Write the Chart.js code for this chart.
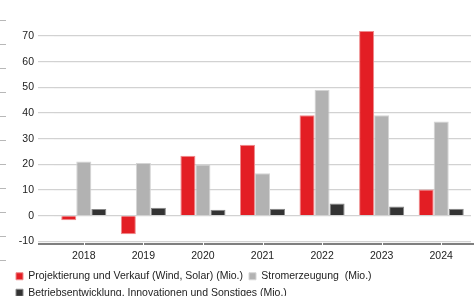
<!DOCTYPE html>
<html>
<head>
<meta charset="utf-8">
<script src="https://cdn.jsdelivr.net/npm/chart.js@4/dist/chart.umd.min.js"></script>
<style>
  html, body { margin: 0; padding: 0; background: #fff; overflow: hidden; }
  #wrap { position: relative; width: 474px; height: 308px; }
  #dashes { position: absolute; left: 0; top: 20px; width: 6px; height: 242px;
    background: repeating-linear-gradient(to bottom, #b8b8b8 0px, #b8b8b8 1px, transparent 1px, transparent 24px); }
</style>
</head>
<body>
<div id="wrap">
  <canvas id="c" width="474" height="308"></canvas>
  <div id="dashes"></div>
</div>
<script>
const categories = ['2018', '2019', '2020', '2021', '2022', '2023', '2024'];
const projektierung = [-1.8, -7.2, 23.4, 27.6, 39.1, 71.9, 10.2];
const stromerzeugung = [21.1, 20.5, 19.9, 16.5, 49.1, 39.1, 36.7];
const betrieb = [2.6, 3.1, 2.3, 2.7, 4.8, 3.6, 2.7];
const seriesNames = [
  'Projektierung und Verkauf (Wind, Solar) (Mio.)',
  'Stromerzeugung  (Mio.)',
  'Betriebsentwicklung, Innovationen und Sonstiges (Mio.)'
];
const yTicks = [-10, 0, 10, 20, 30, 40, 50, 60, 70];

const FONT = 'Liberation Sans, Arial, sans-serif';

const axisLinePlugin = {
  id: 'axisLine',
  afterDatasetsDraw(chart) {
    const ctx = chart.ctx;
    const y = chart.scales.y.getPixelForValue(-10) + 2.5;
    const x = chart.scales.x;
    ctx.save();
    ctx.strokeStyle = '#555555';
    ctx.lineWidth = 1.5;
    ctx.beginPath();
    ctx.moveTo(chart.chartArea.left - 16, y);
    ctx.lineTo(chart.width, y);
    ctx.stroke();
    ctx.strokeStyle = '#ffffff';
    ctx.lineWidth = 1;
    for (let i = 0; i < categories.length; i++) {
      const px = Math.round(x.getPixelForTick(i)) + 0.5;
      ctx.beginPath();
      ctx.moveTo(px, y - 1.5);
      ctx.lineTo(px, y + 1.5);
      ctx.stroke();
    }
    ctx.restore();
  }
};

new Chart(document.getElementById('c'), {
  type: 'bar',
  data: {
    labels: categories,
    datasets: [
      { label: seriesNames[0], data: projektierung, backgroundColor: '#e31e24', borderColor: '#ee8a8c', borderWidth: 1 },
      { label: seriesNames[1], data: stromerzeugung, backgroundColor: '#b2b2b2', borderColor: '#d4d4d4', borderWidth: 1 },
      { label: seriesNames[2], data: betrieb, backgroundColor: '#333333', borderColor: '#888888', borderWidth: 1 }
    ]
  },
  options: {
    responsive: false,
    animation: false,
    events: [],
    layout: { padding: { left: 10, right: 3, top: 3, bottom: 0 } },
    datasets: { bar: { categoryPercentage: 0.757, barPercentage: 1.0 } },
    scales: {
      x: {
        grid: { display: false, drawTicks: false },
        border: { display: false },
        ticks: { color: '#222', font: { family: FONT, size: 10.5 }, padding: 8 },
        afterFit(scale) { scale.height -= 5; }
      },
      y: {
        min: -10,
        max: 80,
        afterBuildTicks(scale) {
          scale.ticks = yTicks.concat([80]).map(v => ({ value: v }));
        },
        afterFit(scale) { scale.width = 44; },
        grid: {
          color: (c) => (c.tick && c.tick.value === 80) ? 'rgba(0,0,0,0)' : '#d2d2d2',
          lineWidth: 1.2,
          tickLength: 16
        },
        border: { display: false },
        ticks: {
          color: '#222',
          font: { family: FONT, size: 10.5 },
          padding: 4,
          callback: (v) => yTicks.includes(v) ? String(v) : ''
        }
      }
    },
    plugins: {
      legend: {
        position: 'bottom',
        align: 'start',
        labels: {
          boxWidth: 7,
          boxHeight: 7,
          padding: 6,
          color: '#222',
          font: { family: FONT, size: 10.5 }
        }
      },
      tooltip: { enabled: false }
    }
  },
  plugins: [axisLinePlugin]
});
</script>
</body>
</html>
